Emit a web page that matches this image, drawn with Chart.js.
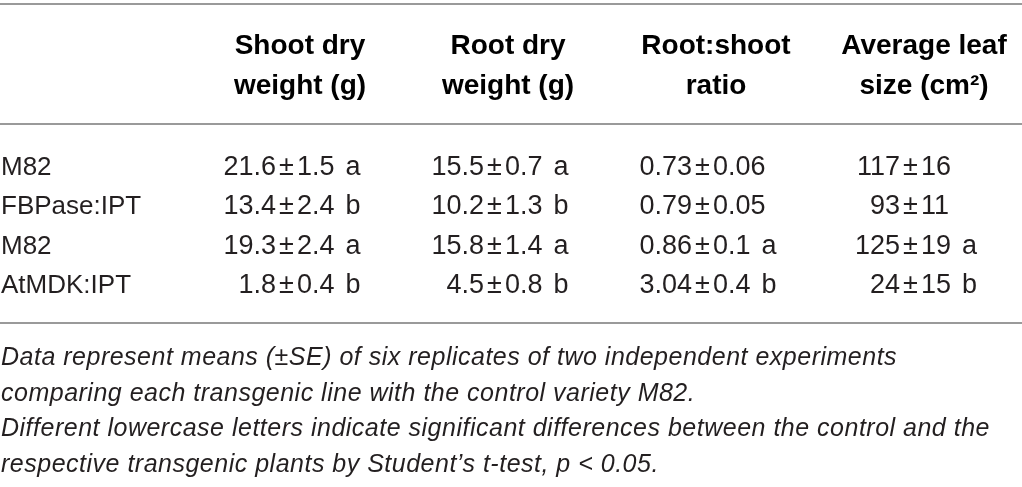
<!DOCTYPE html>
<html>
<head>
<meta charset="utf-8">
<script src="https://cdn.jsdelivr.net/npm/chart.js@4.4.1/dist/chart.umd.min.js"></script>
<style>
  html, body { margin: 0; padding: 0; background: #fff; }
  #wrap { width: 1022px; height: 487px; position: relative; }
</style>
</head>
<body>
<div id="wrap"><canvas id="myChart"></canvas></div>
<script>
// table values
var lineNames = ['M82', 'FBPase:IPT', 'M82', 'AtMDK:IPT'];
var headers = [
  ['Shoot dry', 'weight (g)'],
  ['Root dry', 'weight (g)'],
  ['Root:shoot', 'ratio'],
  ['Average leaf', 'size (cm²)']
];
var shootMean = [21.6, 13.4, 19.3, 1.8];
var shootSE = [1.5, 2.4, 2.4, 0.4];
var shootSig = ['a', 'b', 'a', 'b'];
var rootMean = [15.5, 10.2, 15.8, 4.5];
var rootSE = [0.7, 1.3, 1.4, 0.8];
var rootSig = ['a', 'b', 'a', 'b'];
var ratioMean = [0.73, 0.79, 0.86, 3.04];
var ratioSE = [0.06, 0.05, 0.1, 0.4];
var ratioSig = ['', '', 'a', 'b'];
var leafMean = [117, 93, 125, 24];
var leafSE = [16, 11, 19, 15];
var leafSig = ['', '', 'a', 'b'];
var notes = [
  'Data represent means (±SE) of six replicates of two independent experiments',
  'comparing each transgenic line with the control variety M82.',
  'Different lowercase letters indicate significant differences between the control and the',
  'respective transgenic plants by Student’s t-test, p < 0.05.'
];

var columns = [
  { mean: shootMean, se: shootSE, sig: shootSig },
  { mean: rootMean, se: rootSE, sig: rootSig },
  { mean: ratioMean, se: ratioSE, sig: ratioSig },
  { mean: leafMean, se: leafSE, sig: leafSig }
];

var FONT = '"Liberation Sans", Arial, sans-serif';
var INK = '#231f20';
var RULE = '#9a9a9a';

var tableText = {
  id: 'tableText',
  afterDraw: function (chart) {
    var ctx = chart.ctx;
    var area = chart.chartArea;
    var xs = chart.scales.x, ys = chart.scales.y;
    var W = chart.width;
    ctx.save();

    // rules
    ctx.strokeStyle = RULE;
    ctx.lineWidth = 2;
    [4, area.top - 21, area.bottom + 20].forEach(function (y) {
      ctx.beginPath();
      ctx.moveTo(0, y);
      ctx.lineTo(W, y);
      ctx.stroke();
    });

    // header
    ctx.fillStyle = '#000';
    ctx.font = 'bold 28px ' + FONT;
    ctx.textAlign = 'center';
    ctx.textBaseline = 'alphabetic';
    headers.forEach(function (h, c) {
      var x = xs.getPixelForValue(c);
      ctx.fillText(h[0], x, area.top - 91);
      ctx.fillText(h[1], x, area.top - 51);
    });

    // row labels
    ctx.fillStyle = INK;
    ctx.font = '26px ' + FONT;
    ctx.textAlign = 'left';
    lineNames.forEach(function (name, r) {
      ctx.fillText(name, 1, ys.getPixelForValue(r) + 10);
    });

    // cells, aligned on the ± sign
    ctx.font = '27px ' + FONT;
    var gap = 3, sigGap = 11;
    var pmW = ctx.measureText('±').width;
    var rightW = function (d) {
      var w = ctx.measureText(String(d.se)).width;
      return d.sig ? w + sigGap + ctx.measureText(d.sig).width : w;
    };
    chart.data.datasets.forEach(function (ds, c) {
      var meta = chart.getDatasetMeta(c);
      var maxL = 0, maxR = 0;
      ds.data.forEach(function (d) {
        maxL = Math.max(maxL, ctx.measureText(String(d.mean)).width);
        maxR = Math.max(maxR, rightW(d));
      });
      var blockW = maxL + gap + pmW + gap + maxR;
      meta.data.forEach(function (el, i) {
        var d = ds.data[i];
        var left = el.x - 8 - blockW / 2;
        var pmX = left + maxL + gap;
        var y = el.y + 10;
        ctx.textAlign = 'right';
        ctx.fillText(String(d.mean), pmX - gap, y);
        ctx.textAlign = 'left';
        ctx.fillText('±', pmX, y);
        var sx = pmX + pmW + gap;
        ctx.fillText(String(d.se), sx, y);
        if (d.sig) {
          ctx.fillText(d.sig, sx + ctx.measureText(String(d.se)).width + sigGap, y);
        }
      });
    });

    // footnotes
    ctx.font = 'italic 25px ' + FONT;
    ctx.letterSpacing = '0.5px';
    ctx.textAlign = 'left';
    notes.forEach(function (t, k) {
      ctx.fillText(t, 1, area.bottom + 62 + k * 35.7);
    });
    ctx.restore();
  }
};

var ctx = document.getElementById('myChart');

var myChart = new Chart(ctx, {
  type: 'scatter',
  data: {
    datasets: columns.map(function (col, c) {
      return {
        label: headers[c].join(' '),
        data: col.mean.map(function (m, r) {
          return { x: c, y: r, mean: m, se: col.se[r], sig: col.sig[r] };
        }),
        pointRadius: 0,
        pointHoverRadius: 0
      };
    })
  },
  options: {
    responsive: true,
    maintainAspectRatio: false,
    animation: false,
    devicePixelRatio: 1,
    layout: { padding: { left: 196, right: 46, top: 145, bottom: 184 } },
    plugins: {
      legend: { display: false },
      tooltip: { enabled: false }
    },
    scales: {
      x: { type: 'linear', min: -0.5, max: 3.25, display: false },
      y: { type: 'linear', min: -0.5, max: 3.5, reverse: true, display: false }
    }
  },
  plugins: [tableText]
});
</script>
</body>
</html>
